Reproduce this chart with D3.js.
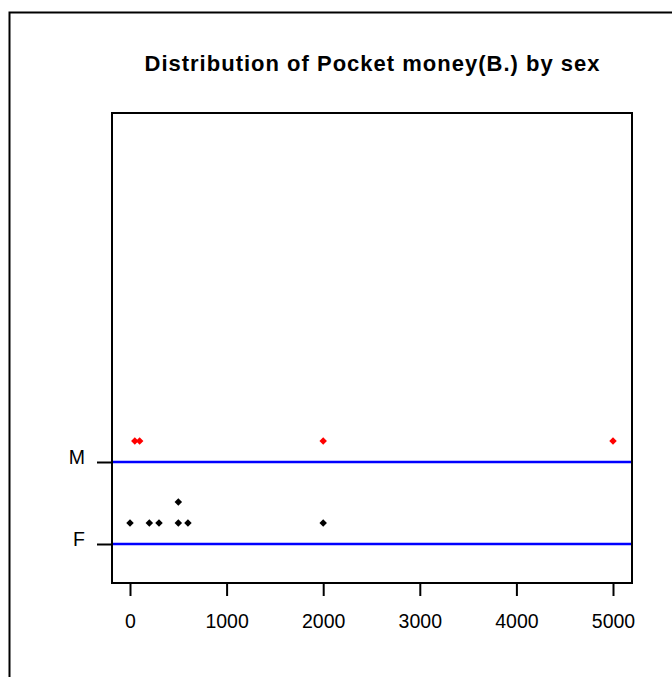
<!DOCTYPE html>
<html><head><meta charset="utf-8">
<script src="https://cdn.jsdelivr.net/npm/d3@7"></script>
<style>body{margin:0;background:#fff}svg{display:block}text{font-family:"Liberation Sans",Arial,sans-serif}</style>
</head><body>
<script>
const title = "Distribution of Pocket money(B.) by sex";
const groups = ["F", "M"];
const femaleValues = [0, 200, 300, 500, 500, 600, 2000];
const maleValues = [50, 100, 2000, 5000];
const xTicks = [0, 1000, 2000, 3000, 4000, 5000];

const W = 672, H = 677;
const svg = d3.select("body").append("svg").attr("width", W).attr("height", H);
svg.append("rect").attr("width", W).attr("height", H).attr("fill", "#fff");
// outer frame
svg.append("path").attr("d", `M9.5,${H+2}V12.5H${W+2}`).attr("fill","none").attr("stroke","#000").attr("stroke-width",2);

const box = {l:112, t:113, r:632, b:583};
const x = d3.scaleLinear().domain([0, 5000]).range([130, 613]);
const y = d3.scalePoint().domain(groups).range([544, 462]);

svg.append("text").attr("x", (box.l+box.r)/2).attr("y", 71).attr("text-anchor","middle")
  .attr("font-weight","bold").attr("font-size", 22)
  .attr("textLength", 455).attr("lengthAdjust","spacing").text(title);

svg.append("rect").attr("x", box.l).attr("y", box.t).attr("width", box.r-box.l).attr("height", box.b-box.t)
  .attr("fill","none").attr("stroke","#000").attr("stroke-width",2);

// baselines
svg.selectAll("line.base").data(groups).join("line").attr("class","base")
  .attr("x1", box.l+1).attr("x2", box.r-1).attr("y1", d=>y(d)).attr("y2", d=>y(d))
  .attr("stroke","#0000ff").attr("stroke-width",2.5);

// y axis
const yAxis = d3.axisLeft(y).tickSize(15).tickPadding(12);
const gy = svg.append("g").attr("transform", `translate(${box.l},0)`).call(yAxis);
gy.select(".domain").remove();
gy.selectAll("line").attr("stroke-width",2);
gy.selectAll("text").attr("font-size",19.5).attr("fill","#000").attr("dy","1");

// x axis
const xAxis = d3.axisBottom(x).tickValues(xTicks).tickSize(13).tickPadding(12).tickFormat(d3.format("d"));
const gx = svg.append("g").attr("transform", `translate(0,${box.b})`).call(xAxis);
gx.select(".domain").remove();
gx.selectAll("line").attr("stroke-width",2);
gx.selectAll("text").attr("font-size",19.5).attr("fill","#000").attr("dy","1.05em");

// stacked dots
const diamond = d3.symbol().type(d3.symbolDiamond2).size(36);
function stack(vals){
  const cnt = {};
  return vals.map(v => { cnt[v] = (cnt[v]||0)+1; return {v, k: cnt[v]}; });
}
const series = [{g:"F", vals: femaleValues, color:"#000"}, {g:"M", vals: maleValues, color:"#ff0000"}];
series.forEach(s => {
  svg.append("g").selectAll("path").data(stack(s.vals)).join("path")
    .attr("d", diamond)
    .attr("transform", d => `translate(${x(d.v)},${y(s.g) - 21*d.k})`)
    .attr("fill", s.color);
});
</script>
</body></html>
